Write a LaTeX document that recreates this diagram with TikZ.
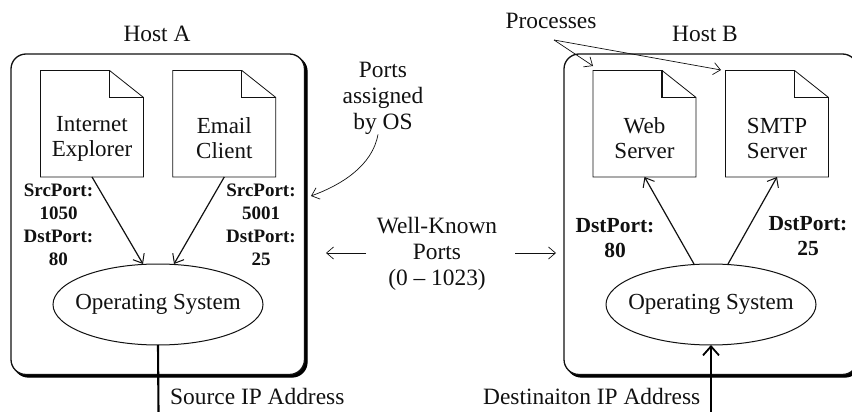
\documentclass[tikz,border=0pt]{standalone}
\usepackage{fontspec}
\setmainfont{Liberation Serif}
\usetikzlibrary{arrows.meta,shapes.geometric}
\definecolor{ink}{HTML}{111111}
\tikzset{
  lbl/.style={align=center,inner sep=0pt,font=\fontsize{23.4}{26}\selectfont,text=ink},
  portlbl/.style={align=center,inner sep=0pt,font=\fontsize{19}{23}\selectfont\bfseries,text=ink},
  portlblb/.style={align=center,inner sep=0pt,font=\fontsize{21.5}{25}\selectfont\bfseries,text=ink},
  host/.style={draw=ink,line width=1.3pt,rounded corners=15pt,fill=white},
  hostshadow/.style={draw=black,line width=1.3pt,rounded corners=15pt,fill=black},
  docbox/.style={minimum width=103pt,minimum height=106.5pt,inner sep=0pt,outer sep=0pt,align=center,font=\fontsize{23}{25}\selectfont,text=ink},
  docline/.style={draw=ink,line width=0.8pt,line join=miter},
  osnode/.style={ellipse,draw=ink,line width=1pt,minimum width=210pt,minimum height=81pt,inner sep=0pt,outer sep=0pt,font=\fontsize{23}{26}\selectfont,text=ink},
  conn/.style={draw=ink,line width=1.2pt,-{Straight Barb[length=8pt,width=13pt,line width=1pt]}},
  note/.style={draw=ink,line width=0.7pt,-{Straight Barb[length=7pt,width=12pt,line width=0.7pt]}},
  bus/.style={draw=black,line width=2.1pt},
}
\newcommand{\docshape}[1]{%
  \draw[docline] (#1.north west) -- ([xshift=-34pt]#1.north east) -- ([yshift=-27pt]#1.north east) -- (#1.south east) -- (#1.south west) -- cycle;
  \draw[docline,line width=1.2pt] ([xshift=-34pt]#1.north east) -- ([xshift=-34pt,yshift=-27pt]#1.north east) -- ([yshift=-27pt]#1.north east);
}
\begin{document}
\begin{tikzpicture}[x=1pt,y=-1pt]
\useasboundingbox (0,0) rectangle (852,412);
\begin{scope}
\clip (0,0) rectangle (852,412);
% hosts
\path[hostshadow] (13.5,56.5) rectangle (307,377);
\path[host] (11,54) rectangle (304.5,374.5);
\path[hostshadow] (566.5,56.5) rectangle (860,377);
\path[host] (564,54) rectangle (857.5,374.5);
\end{scope}
\node[lbl] (hosta) at (157,34) {Host A};
\node[lbl] (hostb) at (705,34) {Host B};
% documents
\node[docbox] (ie) at (92,123.7) {\rule{0pt}{28pt}\\[-8pt]Internet\\Explorer};
\node[docbox] (ec) at (224.3,123.7) {\rule{0pt}{28pt}\\[-8pt]Email\\Client};
\node[docbox] (web) at (644.5,123.7) {\rule{0pt}{28pt}\\[-8pt]Web\\Server};
\node[docbox] (smtp) at (777,123.7) {\rule{0pt}{28pt}\\[-8pt]SMTP\\Server};
\docshape{ie}\docshape{ec}\docshape{web}\docshape{smtp}
% OS
\node[osnode] (osa) at (158,304.5) {\makebox[0pt]{Operating System}};
\node[osnode] (osb) at (711,304.5) {\makebox[0pt]{Operating System}};
% port labels
\node[portlbl] (pa) at (58.5,225) {SrcPort:\\1050\\DstPort:\\80};
\node[portlbl] (pb) at (261,224.5) {SrcPort:\\5001\\DstPort:\\25};
\node[portlblb] (pc) at (615,238) {DstPort:\\80};
\node[portlblb] (pd) at (808,236) {DstPort:\\25};
% connectors
\draw[conn] (ie.south) -- (143,264);
\draw[conn] (ec.south) -- (174,264);
\coordinate (wbase) at (694,264);
\coordinate (sbase) at (728,264);
\draw[conn] (wbase) -- (web.south);
\draw[conn] (sbase) -- (smtp.south);
% buses
\coordinate (busa) at (158.5,412);
\coordinate (busb) at (711,412);
\draw[bus] (osa.south) -- (busa);
\draw[bus,-{Straight Barb[length=9pt,width=16pt,line width=1.8pt]}] (busb) -- (osb.south);
\node[lbl,anchor=west] (src) at (170,396.5) {Source IP Address};
\node[lbl,anchor=west] (dst) at (483,396.5) {Destinaiton IP Address};
% notes
\node[lbl] (ports) at (383,98) {Ports\\assigned\\by OS};
\coordinate (hostedge) at (311,196);
\draw[note] (ports.south) ++(-5,0) to[out=-100,in=20,looseness=0.9] (hostedge);
\node[lbl] (wk) at (437,254) {Well-Known\\Ports\\(0 -- 1023)};
\coordinate (wl) at (326,253);
\coordinate (wr) at (556,253);
\draw[note] (366,253) -- (wl);
\draw[note] (515,253) -- (wr);
\node[lbl] (proc) at (551,21) {Processes};
\coordinate (procroot) at (554,40);
\coordinate (pt1) at (593,66);
\coordinate (pt2) at (721,70);
\draw[note] (procroot) -- (pt1);
\draw[note] (procroot) -- (pt2);
\end{tikzpicture}
\end{document}
